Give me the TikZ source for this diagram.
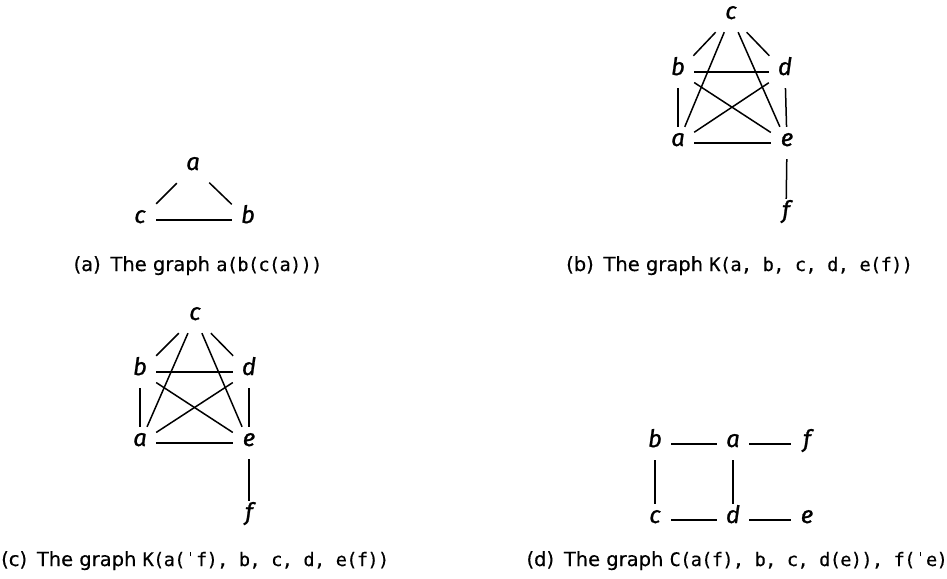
\documentclass[tikz,border=0pt]{standalone}
\usepackage{fontspec}
\setmainfont{DejaVu Sans}[FakeBold=0.4]
\newfontfamily\codefont{DejaVu Sans Mono}[LetterSpace=-3.5, FakeBold=0.4]
\newfontfamily\lblfont{Fira Sans}[ItalicFeatures={FakeBold=1.0}]
\newcommand{\tk}{\makebox[0.57em]{\rule[0.52em]{0.06em}{0.22em}}}
\newcommand{\cd}[1]{{\fontsize{18.6}{20}\codefont #1}}
\tikzset{
  vtx/.style={rectangle, minimum width=32pt, minimum height=32pt, inner sep=0pt,
    font=\lblfont\itshape\fontsize{24}{24}\selectfont, text height=0.6em, text depth=0pt},
  ln/.style={line width=1.5pt, black},
  captxt/.style={inner sep=0pt, font=\fontsize{19.5}{22}\selectfont}
}
\begin{document}
\begin{tikzpicture}[x=1pt,y=-1pt]
\useasboundingbox (0,0) rectangle (947,578);
% (a)
\node[vtx] (a1) at (193,167) {a};
\node[vtx] (c1) at (140,220) {c};
\node[vtx] (b1) at (248,220) {b};
\draw[ln] (a1) -- (c1);
\draw[ln] (a1) -- (b1);
\draw[ln] (c1) -- (b1);
\node[captxt, anchor=base] (capa) at (198,271) {(a)\hspace{0.5em}The graph \cd{a(b(c(a)))}};
% (b)
\node[vtx] (c2) at (731,16) {c};
\node[vtx] (b2) at (678,72) {b};
\node[vtx] (d2) at (785,72) {d};
\node[vtx] (a2) at (678,143) {a};
\node[vtx] (e2) at (787,143) {e};
\node[vtx] (f2) at (786,215) {f};
\draw[ln] (c2) -- (b2);
\draw[ln] (c2) -- (d2);
\draw[ln] (c2) -- (a2);
\draw[ln] (c2) -- (e2);
\draw[ln] (b2) -- (d2);
\draw[ln] (b2) -- (e2);
\draw[ln] (d2) -- (a2);
\draw[ln] (b2) -- (a2);
\draw[ln] (d2) -- (e2);
\draw[ln] (a2) -- (e2);
\draw[ln] (e2) -- (f2);
\node[captxt, anchor=base west] (capb) at (566,271) {(b)\hspace{0.5em}The graph \cd{K(a, b, c, d, e(f))}};
% (c)
\node[vtx] (c3) at (195,317) {c};
\node[vtx] (b3) at (140,372) {b};
\node[vtx] (d3) at (249,372) {d};
\node[vtx] (a3) at (140,443) {a};
\node[vtx] (e3) at (249,443) {e};
\node[vtx] (f3) at (249,517) {f};
\draw[ln] (c3) -- (b3);
\draw[ln] (c3) -- (d3);
\draw[ln] (c3) -- (a3);
\draw[ln] (c3) -- (e3);
\draw[ln] (b3) -- (d3);
\draw[ln] (b3) -- (e3);
\draw[ln] (d3) -- (a3);
\draw[ln] (b3) -- (a3);
\draw[ln] (d3) -- (e3);
\draw[ln] (a3) -- (e3);
\draw[ln] (e3) -- (f3);
\node[captxt, anchor=base west] (capc) at (1,566) {(c)\hspace{0.5em}The graph \cd{K(a(\tk f), b, c, d, e(f))}};
% (d)
\node[vtx] (b4) at (655,444) {b};
\node[vtx] (a4) at (733,444) {a};
\node[vtx] (f4) at (807,444) {f};
\node[vtx] (c4) at (655,520) {c};
\node[vtx] (d4) at (733,520) {d};
\node[vtx] (e4) at (807,520) {e};
\draw[ln] (b4) -- (a4);
\draw[ln] (a4) -- (f4);
\draw[ln] (b4) -- (c4);
\draw[ln] (a4) -- (d4);
\draw[ln] (c4) -- (d4);
\draw[ln] (d4) -- (e4);
\node[captxt, anchor=base east] (capd) at (948,566) {(d)\hspace{0.5em}The graph \cd{C(a(f), b, c, d(e)), f(\tk e)}};
\end{tikzpicture}
\end{document}
